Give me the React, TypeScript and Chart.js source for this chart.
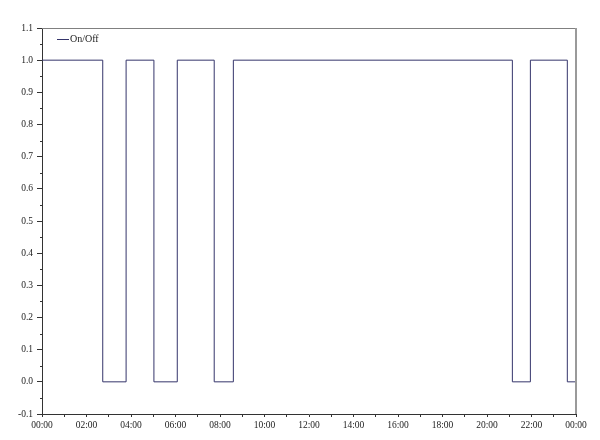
import React, { useEffect, useRef } from "react";
import { Chart, registerables } from "chart.js";

Chart.register(...registerables);

// Switching times (hours since 00:00) and the state that starts at each time
const changeHours = [0, 2.73, 3.78, 5.03, 6.08, 7.74, 8.6, 21.14, 21.95, 23.61, 24];
const states = [1, 0, 1, 0, 1, 0, 1, 0, 1, 0, 0];
const seriesLabel = "On/Off";
const yMin = -0.1;
const yMax = 1.1;
const xMin = 0;
const xMax = 24;

const LINE = "#35356b";
const FONT = "'Liberation Serif', 'Times New Roman', serif";

const fmtHour = (v: number) => {
  const h = Math.round(v) % 24;
  return (h < 10 ? "0" : "") + h + ":00";
};

const framePlugin = {
  id: "frame",
  afterDraw(chart: any) {
    const { ctx, chartArea } = chart;
    const { left, right, top, bottom } = chartArea;
    ctx.save();
    // top & right frame
    ctx.strokeStyle = "#808080";
    ctx.lineWidth = 1;
    ctx.beginPath();
    ctx.moveTo(left, top + 0.5);
    ctx.lineTo(right, top + 0.5);
    ctx.stroke();
    ctx.strokeStyle = "#9a9a9a";
    ctx.lineWidth = 2;
    ctx.beginPath();
    ctx.moveTo(right, top);
    ctx.lineTo(right, bottom);
    ctx.stroke();
    // minor y ticks
    const ys = chart.scales.y;
    ctx.strokeStyle = "#333";
    ctx.lineWidth = 1;
    for (let i = 0; i < 12; i++) {
      const v = yMin + 0.05 + i * 0.1;
      const py = Math.round(ys.getPixelForValue(v)) + 0.5;
      ctx.beginPath();
      ctx.moveTo(left - 2, py);
      ctx.lineTo(left, py);
      ctx.stroke();
    }
    // legend
    const ds = chart.data.datasets[0];
    const lx = left + 15;
    const ly = top + 11.5;
    ctx.strokeStyle = LINE;
    ctx.lineWidth = 1;
    ctx.beginPath();
    ctx.moveTo(lx, ly);
    ctx.lineTo(lx + 12, ly);
    ctx.stroke();
    ctx.fillStyle = "#222";
    ctx.font = "10px " + FONT;
    ctx.textBaseline = "middle";
    ctx.textAlign = "left";
    ctx.fillText(ds.label, lx + 13, ly);
    ctx.restore();
  },
};

export default function App() {
  const ref = useRef<HTMLCanvasElement | null>(null);
  useEffect(() => {
    if (!ref.current) return;
    const points = changeHours.map((h, i) => ({ x: h, y: states[i] }));
    const chart = new Chart(ref.current, {
      type: "line",
      data: {
        datasets: [
          {
            label: seriesLabel,
            data: points,
            stepped: true,
            borderColor: LINE,
            borderWidth: 1,
            pointRadius: 0,
            fill: false,
          },
        ],
      },
      options: {
        animation: false,
        responsive: false,
        maintainAspectRatio: false,
        layout: { padding: { top: 28, right: 24, left: 0, bottom: 0 } },
        plugins: { legend: { display: false }, tooltip: { enabled: false } },
        scales: {
          x: {
            type: "linear",
            min: xMin,
            max: xMax,
            afterFit: (s: any) => {
              s.height = 26;
            },
            border: { color: "#333", width: 1 },
            grid: { drawOnChartArea: false, drawTicks: true, tickLength: 3, color: "#333" },
            ticks: {
              stepSize: 1,
              autoSkip: false,
              maxRotation: 0,
              padding: 3,
              color: "#222",
              font: { family: FONT, size: 9.5 },
              callback: (v: any) => (Math.round(v) % 2 === 0 ? fmtHour(Number(v)) : ""),
            },
          },
          y: {
            type: "linear",
            min: yMin,
            max: yMax,
            afterFit: (s: any) => {
              s.width = 42;
            },
            border: { color: "#333", width: 1 },
            grid: { drawOnChartArea: false, drawTicks: true, tickLength: 5, color: "#333" },
            ticks: {
              stepSize: 0.1,
              padding: 4,
              color: "#222",
              font: { family: FONT, size: 9.5 },
              callback: (v: any) => {
                const n = Number(v);
                return Math.abs(n) < 1e-9 ? "0.0" : n.toFixed(1);
              },
            },
          },
        },
      },
      plugins: [framePlugin],
    });
    return () => chart.destroy();
  }, []);
  return (
    <div style={{ position: "fixed", left: 0, top: 0, width: 600, height: 440, background: "#fff" }}>
      <canvas ref={ref} width={600} height={440} style={{ display: "block", width: 600, height: 440 }} />
    </div>
  );
}
